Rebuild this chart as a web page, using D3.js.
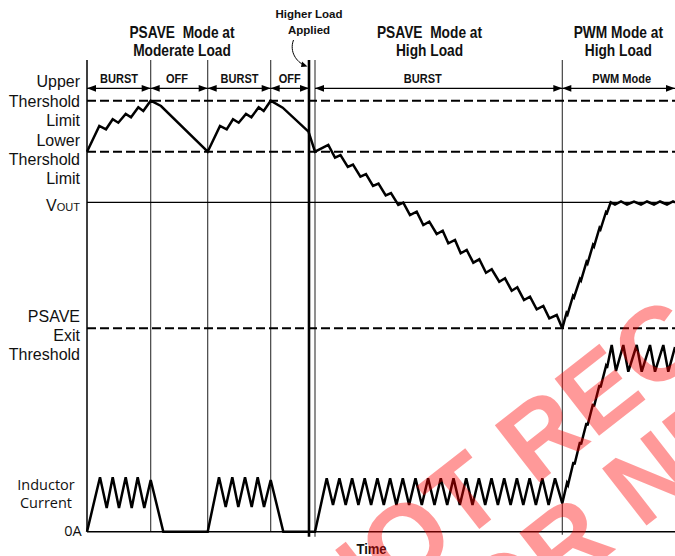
<!DOCTYPE html>
<html><head><meta charset="utf-8">
<script src="https://cdn.jsdelivr.net/npm/d3@7"></script>
<style>
html,body{margin:0;padding:0;background:#fff;}
svg{display:block;}
text{white-space:pre;}
</style></head>
<body>
<svg id="chart" width="675" height="556"></svg>
<script>
// ---------- data (time in arbitrary units, voltage / current in arbitrary units) ----------
const phaseStart  = [0, 63.7, 120.7, 183.7, 228, 475.3];
const phaseEnd    = [63.7, 120.7, 183.7, 222, 475.3, 588];
const phaseLabels = ["BURST", "OFF", "BURST", "OFF", "BURST", "PWM Mode"];
const phaseLabelAt = [32, 90, 152.5, 202.8, 335.8, 534.7];
const boundaries  = [63.7, 120.7, 183.7, 228, 475.3];
const loadStepAt  = 222;

const titleLines = [["PSAVE  Mode at", "Moderate Load"], ["PSAVE  Mode at", "High Load"], ["PWM Mode at", "High Load"]];
const titleAt = [95, 342.5, 531.3];
const loadStepLabel = ["Higher Load", "Applied"];

const levelLabels = [["Upper", "Thershold", "Limit"], ["Lower", "Thershold", "Limit"], ["V"], ["PSAVE", "Exit", "Threshold"]];
const levelValues = [227.6, 176.6, 126, 0];
const levelDashed = [true, true, false, true];

const currentLabel = ["Inductor", "Current"];
const zeroLabel = "0A";
const timeLabel = "Time";

// output voltage waveform [time, voltage]
const vout = [
  [0,176.6],[12.3,202.3],[19,199],[25.7,209],[31.3,205.6],[38.7,214.3],[44,211],[51.3,221],[56.3,217.3],[63.7,227.6],
  [74,222.3],[120.7,176.6],
  [133,202.3],[139.7,199],[146,209],[151.7,205.6],[159,214.3],[164.4,211],[171.7,221],[176.7,217.3],[183.7,227.6],
  [195.7,220.6],[221.5,196.6],[228,176.6],
  [241.3,183.3],[248,170.7],[253.5,173.3],[260.8,161.3],[266,163.8],[273.4,151.7],[279,154.3],[286,142.3],
  [291.5,144.8],[298.7,132.8],[304,135.3],[311.3,123.3],[316.3,125.6],[323,113.3],[329.7,116.6],[336.3,103.3],
  [342.3,106.6],[349.7,94.3],[355.7,97.6],[361.3,85],[368,88.3],[373.7,75],[379.7,78.3],[386.3,65.6],
  [392.3,69],[399,55.6],[404.7,59],[412.3,46.6],[418,50],[424.7,37.6],[430.3,41],[437,28.3],
  [443,31.6],[449.7,19],[456.3,22.3],[462.3,10],[469.7,13.3],[475.3,0],
  [479.5,15.3],[480.5,13.8],[486,32.3],[487,30.8],[493,49.3],[494,47.8],[499.5,66.3],[500.5,64.8],
  [506,83.3],[507,81.8],[512.5,100.3],[513.5,98.8],[519,116.3],[520,115.3],[523.7,126],
  [528,123.8],[534,126.8],[540,123.8],[547,126.8],[554,123.8],[560,126.8],[567,123.8],[573,126.8],
  [580,123.8],[586,126.8],[588,125.8]
];

// inductor current waveform [time, current]
const inductor = [
  [0,0],[13,54.4],[19.7,23.7],[25.7,54.4],[32,23.7],[38.7,54.4],[44.7,23.7],[50.7,54.4],[57.3,23.7],[63.7,51.7],
  [76.3,0],[120.7,0],
  [132,54.4],[138.7,24.7],[145.3,54.4],[151.3,24.7],[158,54.4],[164.7,24.7],[170.7,54.4],[177,24.7],[183.7,51.7],
  [196.3,0],[228,0],
  [239.7,53.4],[246,26.7],[252.4,53.4],[258.7,26.7],[265.1,53.4],[271.4,26.7],[277.7,53.4],[284.1,26.7],
  [290.4,53.4],[296.8,26.7],[303.1,53.4],[309.4,26.7],[315.8,53.4],[322.1,26.7],[328.5,53.4],[334.8,26.7],
  [341.1,53.4],[347.5,26.7],[353.8,53.4],[360.2,26.7],[366.5,53.4],[372.8,26.7],[379.2,53.4],[385.5,26.7],
  [391.9,53.4],[398.2,26.7],[404.5,53.4],[410.9,26.7],[417.2,53.4],[423.6,26.7],[429.9,53.4],[436.3,26.7],
  [442.6,53.4],[448.9,26.7],[455.3,53.4],[461.6,26.7],[468,53.4],[475.3,28.4],
  [480,48.7],[481,46.7],[486.5,69.7],[487.5,67.2],[493,89.7],[494,87.2],[499.5,108.7],[500.5,106.2],
  [506,127.7],[507,125.2],[512.5,146.7],[513.5,144.2],[519,165.7],[520,163.7],[524.7,186.7],
  [529,160.7],[536.3,186.7],[541.3,160],[549.7,186.7],[554.7,160],[563,186.7],[568,160],[576.3,186.7],
  [581.3,160],[588,184.7]
];

const watermarkLines = ["NOT RECOMMENDED", "FOR NEW DESIGNS"];

// ---------- drawing ----------
const svg = d3.select("#chart");
const x  = d3.scaleLinear().domain([0, 588]).range([87, 675]);
const yV = d3.scaleLinear().domain([0, 227.6]).range([328.3, 100.7]);
const yI = d3.scaleLinear().domain([0, 186.7]).range([531.7, 345]);
const topY = 60, arrowY = 88.3;
const sans = "'Liberation Sans', Arial, sans-serif";

// vertical phase boundaries
svg.append("line").attr("x1", x(0)).attr("x2", x(0)).attr("y1", topY).attr("y2", yI(0))
  .attr("stroke", "#000").attr("stroke-width", 1.5);
svg.selectAll("line.bound").data(boundaries).join("line").attr("class", "bound")
  .attr("x1", d => x(d)).attr("x2", d => x(d))
  .attr("y1", topY).attr("y2", (d, i) => i === 3 ? yI(0) + 5 : yI(0) + (i === 4 ? 3 : 0))
  .attr("stroke", "#333").attr("stroke-width", 1.1);
svg.append("line").attr("x1", x(loadStepAt)).attr("x2", x(loadStepAt)).attr("y1", topY).attr("y2", yI(0) + 5)
  .attr("stroke", "#000").attr("stroke-width", 2.6);

// levels
svg.selectAll("line.level").data(levelValues).join("line").attr("class", "level")
  .attr("x1", x(0)).attr("x2", x(588)).attr("y1", d => yV(d)).attr("y2", d => yV(d))
  .attr("stroke", "#000")
  .attr("stroke-width", (d, i) => levelDashed[i] ? 2 : 1.3)
  .attr("stroke-dasharray", (d, i) => levelDashed[i] ? "9,4" : null);
// zero current line
svg.append("line").attr("x1", x(0)).attr("x2", x(588)).attr("y1", yI(0)).attr("y2", yI(0))
  .attr("stroke", "#000").attr("stroke-width", 1.6);

// phase arrows
const ah = 9, aw = 3.4;
phaseLabels.forEach((lab, i) => {
  const xs = x(phaseStart[i]), xe = x(phaseEnd[i]);
  svg.append("line").attr("x1", xs).attr("x2", xe).attr("y1", arrowY).attr("y2", arrowY)
    .attr("stroke", "#000").attr("stroke-width", 1.3);
  svg.append("path").attr("d", `M${xs},${arrowY}L${xs + ah},${arrowY - aw}L${xs + ah},${arrowY + aw}Z`).attr("fill", "#000");
  svg.append("path").attr("d", `M${xe},${arrowY}L${xe - ah},${arrowY - aw}L${xe - ah},${arrowY + aw}Z`).attr("fill", "#000");
  svg.append("text").attr("transform", `translate(${x(phaseLabelAt[i])},${arrowY - 5}) scale(0.92,1)`)
    .attr("text-anchor", "middle").style("font", `bold 12px ${sans}`).attr("fill", "#111").text(lab);
});

// waveforms
const lineV = d3.line().x(d => x(d[0])).y(d => yV(d[1]));
const lineI = d3.line().x(d => x(d[0])).y(d => yI(d[1]));
svg.append("path").attr("d", lineV(vout)).attr("fill", "none").attr("stroke", "#000")
  .attr("stroke-width", 2.5).attr("stroke-linejoin", "miter").attr("stroke-miterlimit", 3);
svg.append("path").attr("d", lineI(inductor)).attr("fill", "none").attr("stroke", "#000")
  .attr("stroke-width", 2.5).attr("stroke-linejoin", "miter").attr("stroke-miterlimit", 3);

// titles
titleLines.forEach((lines, i) => {
  lines.forEach((t, j) => {
    svg.append("text").attr("transform", `translate(${x(titleAt[i])},${38.3 + j * 18}) scale(0.86,1)`)
      .attr("text-anchor", "middle").style("font", `bold 16px ${sans}`).attr("fill", "#111").text(t);
  });
});
loadStepLabel.forEach((t, j) => {
  svg.append("text").attr("x", x(loadStepAt)).attr("y", 18.3 + j * 15.5)
    .attr("text-anchor", "middle").style("font", `bold 11.5px ${sans}`).attr("fill", "#111").text(t);
});
// curved annotation arrow
const ax = x(loadStepAt);
svg.append("path").attr("d", `M${ax - 15.5},${40} C${ax - 20},${52} ${ax - 12},${62} ${ax - 5},${65}`)
  .attr("fill", "none").attr("stroke", "#000").attr("stroke-width", 1);
svg.append("path").attr("d", `M${ax - 1.5},${66.5}L${ax - 7},${61.5}L${ax - 8},${67}Z`).attr("fill", "#000");

// level labels
const lvlFirstOffset = [-13.4, -6, 8.4, -6.6];
levelLabels.forEach((lines, i) => {
  const base = yV(levelValues[i]) + lvlFirstOffset[i];
  if (i === 2) {
    const t = svg.append("text").attr("x", 80).attr("y", base).attr("text-anchor", "end")
      .style("font", `16px ${sans}`).attr("fill", "#111");
    t.append("tspan").text("V");
    t.append("tspan").style("font-size", "11px").text("OUT");
    return;
  }
  lines.forEach((t, j) => {
    svg.append("text").attr("x", 80).attr("y", base + j * 19.3).attr("text-anchor", "end")
      .style("font", `16px ${sans}`).attr("fill", "#111").text(t);
  });
});
currentLabel.forEach((t, j) => {
  svg.append("text").attr("x", 46).attr("y", 490 + j * 18.3).attr("text-anchor", "middle")
    .style("font", "14.5px 'Open Sans', sans-serif").attr("fill", "#111").text(t);
});
svg.append("text").attr("x", 81.7).attr("y", yI(0) + 4.5).attr("text-anchor", "end")
  .style("font", "14.5px 'Open Sans', sans-serif").attr("fill", "#111").text(zeroLabel);
svg.append("text").attr("transform", `translate(371.5,554) scale(0.9,1)`).attr("text-anchor", "middle")
  .style("font", `bold 14.5px ${sans}`).attr("fill", "#111").text(timeLabel);

// watermark
const wm = svg.append("g").attr("transform", "translate(336,641) rotate(-38)")
  .attr("fill", "rgb(255,0,0)").attr("fill-opacity", 0.4).style("font", `bold 105px ${sans}`);
wm.append("text").attr("x", 0).attr("y", 0).text(watermarkLines[0]);
wm.append("text").attr("x", 58).attr("y", 100).text(watermarkLines[1]);
</script>
</body></html>
